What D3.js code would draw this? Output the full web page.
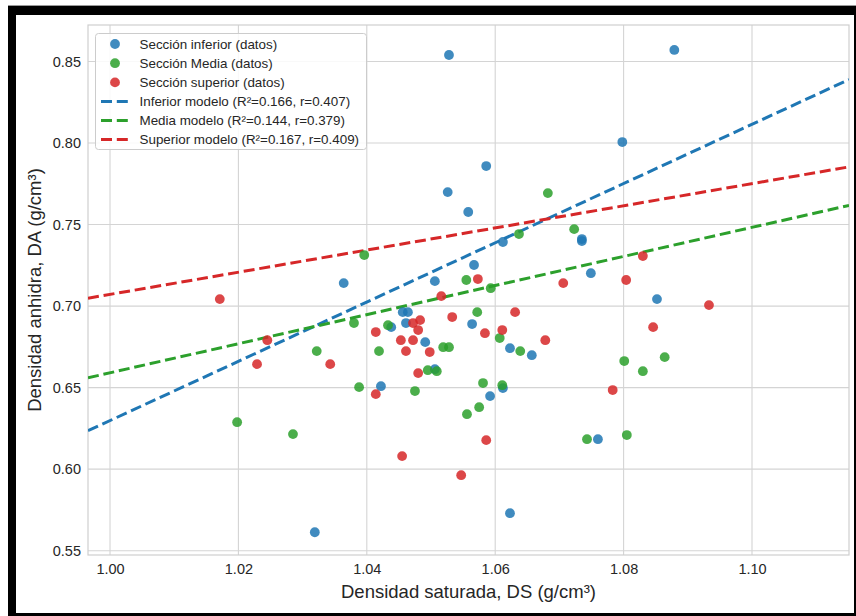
<!DOCTYPE html>
<html><head><meta charset="utf-8">
<script src="https://cdn.jsdelivr.net/npm/d3@7"></script>
<style>
html,body{margin:0;padding:0;background:#fff;}
svg text{font-family:"Liberation Sans",Arial,sans-serif;fill:#262626;}
</style></head>
<body><svg id="c" width="856" height="616"></svg>
<script>
// ---- data ----
const infX = [1.0528,1.0879,1.0798,1.0586,1.0526,1.0558,1.0612,1.0735,1.0735,1.0749,1.0567,1.0364,1.0506,1.0456,1.0464,1.0461,1.0564,1.0438,1.0491,1.0623,1.0657,1.0506,1.0422,1.0612,1.0592,1.0760,1.0852,1.0319,1.0623];
const infY = [0.8540,0.8571,0.8006,0.7859,0.7699,0.7577,0.7393,0.7411,0.7399,0.7202,0.7252,0.7141,0.7153,0.6963,0.6963,0.6896,0.6890,0.6871,0.6779,0.6742,0.6699,0.6613,0.6509,0.6497,0.6448,0.6184,0.7043,0.5613,0.5730];
const medX = [1.0682,1.0723,1.0637,1.0396,1.0555,1.0593,1.0572,1.0380,1.0433,1.0419,1.0607,1.0519,1.0528,1.0639,1.0495,1.0509,1.0388,1.0475,1.0581,1.0611,1.0575,1.0556,1.0743,1.0801,1.0830,1.0864,1.0805,1.0322,1.0198,1.0285];
const medY = [0.7693,0.7472,0.7442,0.7313,0.7160,0.7110,0.6963,0.6896,0.6883,0.6724,0.6804,0.6748,0.6748,0.6724,0.6607,0.6601,0.6503,0.6479,0.6528,0.6515,0.6380,0.6337,0.6184,0.6663,0.6601,0.6687,0.6209,0.6724,0.6288,0.6215];
const supX = [1.0573,1.0516,1.0631,1.0533,1.0483,1.0472,1.0480,1.0414,1.0611,1.0584,1.0678,1.0453,1.0472,1.0461,1.0498,1.0480,1.0414,1.0586,1.0455,1.0547,1.0706,1.0830,1.0804,1.0846,1.0933,1.0783,1.0171,1.0245,1.0229,1.0343];
const supY = [0.7166,0.7061,0.6963,0.6933,0.6914,0.6896,0.6853,0.6841,0.6853,0.6834,0.6791,0.6791,0.6791,0.6724,0.6718,0.6589,0.6460,0.6178,0.6080,0.5963,0.7141,0.7307,0.7160,0.6871,0.7006,0.6485,0.7043,0.6791,0.6644,0.6644];
// model lines: DA = intercept + slope * DS
const modelSlopes = [1.817, 0.892, 0.679];
const modelIntercepts = [-1.1872, -0.2329, 0.0282];
const seriesNames = ["Sección inferior (datos)","Sección Media (datos)","Sección superior (datos)"];
const modelNames = ["Inferior modelo (R²=0.166, r=0.407)","Media modelo (R²=0.144, r=0.379)","Superior modelo (R²=0.167, r=0.409)"];
const colors = ["#1f77b4","#2ca02c","#d62728"];
const xTicks = [1.00,1.02,1.04,1.06,1.08,1.10];
const yTicks = [0.55,0.60,0.65,0.70,0.75,0.80,0.85];
const xDomain = [0.99657,1.11511];
const yDomain = [0.54736,0.87239];
const xLabel = "Densidad saturada, DS (g/cm³)";
const yLabel = "Densidad anhidra, DA (g/cm³)";

// ---- drawing ----
const svg = d3.select("#c");
const L=88,R=849,T=25,B=555;
const x = d3.scaleLinear().domain(xDomain).range([L,R]);
const y = d3.scaleLinear().domain(yDomain).range([B,T]);

svg.append("rect").attr("width",856).attr("height",616).attr("fill","#fff");

// grid
const g = svg.append("g");
g.selectAll("line.gx").data(xTicks).join("line")
  .attr("x1",d=>x(d)).attr("x2",d=>x(d)).attr("y1",T).attr("y2",B)
  .attr("stroke","#d4d4d4").attr("stroke-width",1.1);
g.selectAll("line.gy").data(yTicks).join("line")
  .attr("y1",d=>y(d)).attr("y2",d=>y(d)).attr("x1",L).attr("x2",R)
  .attr("stroke","#d4d4d4").attr("stroke-width",1.1);

// axes (ticks text)
const ax = svg.append("g").attr("transform",`translate(0,${B})`)
  .call(d3.axisBottom(x).tickValues(xTicks).tickFormat(d3.format(".2f")).tickSize(0).tickPadding(9));
const ay = svg.append("g").attr("transform",`translate(${L},0)`)
  .call(d3.axisLeft(y).tickValues(yTicks).tickFormat(d3.format(".2f")).tickSize(0).tickPadding(7));
[ax,ay].forEach(a=>{a.select(".domain").remove(); a.selectAll("text").style("font-size","14.5px").attr("fill","#262626");});

// frame spines
svg.append("rect").attr("x",L).attr("y",T).attr("width",R-L).attr("height",B-T)
  .attr("fill","none").attr("stroke","#cfcfcf").attr("stroke-width",1.2);

// clip
svg.append("clipPath").attr("id","clip").append("rect").attr("x",L).attr("y",T).attr("width",R-L).attr("height",B-T);
const plot = svg.append("g").attr("clip-path","url(#clip)");

// model lines
modelSlopes.forEach((s,i)=>{
  const pts = xDomain.map(v=>[v, modelIntercepts[i]+s*v]);
  plot.append("path").attr("d", d3.line().x(d=>x(d[0])).y(d=>y(d[1]))(pts))
    .attr("fill","none").attr("stroke",colors[i]).attr("stroke-width",3)
    .attr("stroke-dasharray","11,4.8");
});

// points
const sets = [[infX,infY],[medX,medY],[supX,supY]];
sets.forEach(([xs,ys],i)=>{
  plot.selectAll(null).data(xs.map((v,k)=>[v,ys[k]])).join("circle")
    .attr("cx",d=>x(d[0])).attr("cy",d=>y(d[1])).attr("r",4.9)
    .attr("fill",colors[i]).attr("fill-opacity",0.85);
});

// labels
svg.append("text").attr("x",(L+R)/2).attr("y",598).attr("text-anchor","middle")
  .style("font-size","18.5px").text(xLabel);
svg.append("text").attr("transform",`translate(41,${(T+B)/2}) rotate(-90)`).attr("text-anchor","middle")
  .style("font-size","18.5px").text(yLabel);

// legend
const lg = svg.append("g");
lg.append("rect").attr("x",95.5).attr("y",33.5).attr("width",271).attr("height",116).attr("rx",3)
  .attr("fill","#fff").attr("fill-opacity",0.85).attr("stroke","#cccccc").attr("stroke-width",1);
const rowY = [44,63.2,82.4,101.4,120.5,139.6];
seriesNames.forEach((n,i)=>{
  lg.append("circle").attr("cx",115).attr("cy",rowY[i]).attr("r",4.9).attr("fill",colors[i]).attr("fill-opacity",0.85);
  lg.append("text").attr("x",139.5).attr("y",rowY[i]).attr("dy","0.35em").style("font-size","13.4px").text(n);
});
modelNames.forEach((n,i)=>{
  const ry = rowY[i+3];
  lg.append("line").attr("x1",101).attr("x2",129).attr("y1",ry).attr("y2",ry)
    .attr("stroke",colors[i]).attr("stroke-width",3).attr("stroke-dasharray","11,4.8");
  lg.append("text").attr("x",139.5).attr("y",ry).attr("dy","0.35em").style("font-size","13.4px").text(n);
});

// outer black frame (screenshot border)
svg.append("rect").attr("x",8).attr("y",6).attr("width",848).attr("height",9).attr("fill","#000");
svg.append("rect").attr("x",8).attr("y",6).attr("width",8).attr("height",610).attr("fill","#000");
svg.append("rect").attr("x",8).attr("y",613).attr("width",848).attr("height",3).attr("fill","#000");
svg.append("rect").attr("x",854).attr("y",6).attr("width",2).attr("height",610).attr("fill","#000");
svg.append("line").attr("x1",8).attr("x2",856).attr("y1",5.5).attr("y2",5.5).attr("stroke","#999");
</script></body></html>
